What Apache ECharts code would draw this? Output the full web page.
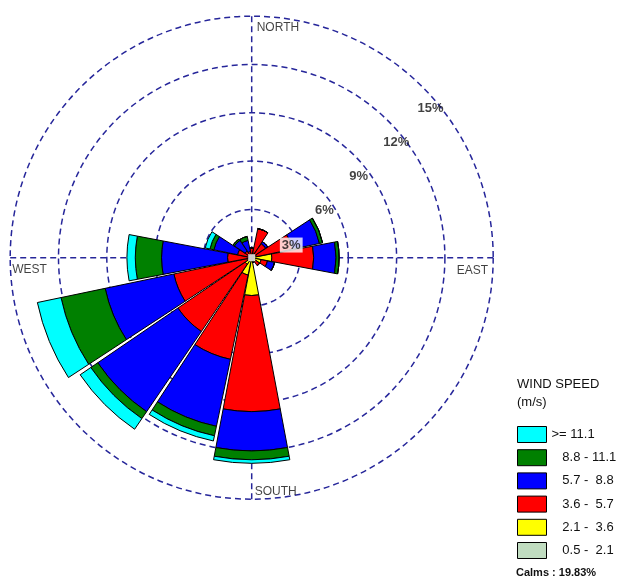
<!DOCTYPE html>
<html>
<head>
<meta charset="utf-8">
<script src="https://cdn.jsdelivr.net/npm/echarts@6/dist/echarts.min.js"></script>
<style>
  html, body { margin: 0; padding: 0; background: #fff; }
  #rose { width: 621px; height: 583px; }
</style>
</head>
<body>
<div id="rose"></div>
<script>
// Wind directions, clockwise from north
const directions = ['N', 'NNE', 'NE', 'ENE', 'E', 'ESE', 'SE', 'SSE',
                    'S', 'SSW', 'SW', 'WSW', 'W', 'WNW', 'NW', 'NNW'];

// Frequency (%) of each speed class per direction
const speed_0_5_2_1  = [0.1, 0.1, 0.1, 0.1, 0.1, 0.1, 0.1, 0.1, 0.1, 0.1, 0.1, 0.1, 0.1, 0.1, 0.1, 0.1];
const speed_2_1_3_6  = [0.1, 0.2, 0.1, 0.2, 1.15, 0.5, 0.2, 0.2, 2.25, 1.0, 0.4, 0.2, 0.1, 0.1, 0.1, 0.05];
const speed_3_6_5_7  = [0.4, 1.55, 0.85, 2.3, 2.6, 0.4, 0.3, 0, 7.21, 5.35, 5.05, 4.64, 1.3, 0.7, 0.3, 0.25];
const speed_5_7_8_8  = [0, 0, 0.15, 1.7, 1.39, 0.45, 0, 0, 2.44, 4.25, 6.03, 4.36, 4.1, 1.5, 0.8, 0.7];
const speed_8_8_11_1 = [0, 0, 0, 0.2, 0.19, 0, 0, 0, 0.55, 0.6, 0.52, 2.8, 1.63, 0.25, 0.1, 0.25];
const speed_ge_11_1  = [0, 0, 0, 0, 0, 0, 0, 0, 0.22, 0.33, 0.8, 1.5, 0.52, 0.3, 0, 0];

const speedClasses = ['   0.5 -  2.1', '   2.1 -  3.6', '   3.6 -  5.7', '   5.7 -  8.8', '   8.8 - 11.1', '>= 11.1'];
const speedColors  = ['#c0dcc0', '#ffff00', '#ff0000', '#0000ff', '#008000', '#00ffff'];
const speedData    = [speed_0_5_2_1, speed_2_1_3_6, speed_3_6_5_7, speed_5_7_8_8, speed_8_8_11_1, speed_ge_11_1];

// Ring levels (%) and compass labels
const ringLevels = [3, 6, 9, 12, 15];
const ringLabels = ['3%', '6%', '9%', '12%', '15%'];
const compassNames  = ['NORTH', 'EAST', 'SOUTH', 'WEST'];
const compassAngles = [0, 90, 180, 270];
const calmsText = 'Calms : 19.83%';

const FONT = 'Liberation Sans, Arial, sans-serif';
const GRID_COLOR = '#26269a';
const dashed = { color: GRID_COLOR, width: 1.5, type: [6, 4] };

const center = [251.7, 257.7];
const outerRadius = 241.5;

// where each compass word sits relative to its axis end
const compassPlacement = {
  NORTH: { align: 'left',  offset: [5, 11] },
  EAST:  { align: 'right', offset: [-5, 13] },
  SOUTH: { align: 'left',  offset: [3, -8] },
  WEST:  { align: 'left',  offset: [2, 12] }
};

const barSeries = speedClasses.map((name, i) => ({
  name: name,
  type: 'bar',
  coordinateSystem: 'polar',
  polarIndex: 0,
  stack: 'speed',
  data: speedData[i],
  barCategoryGap: '5%',
  itemStyle: { color: speedColors[i], borderColor: '#000', borderWidth: 1 },
  emphasis: { disabled: true },
  z: 3
}));

const ringLabelSeries = {
  type: 'scatter',
  coordinateSystem: 'polar',
  polarIndex: 1,
  symbolSize: 1,
  itemStyle: { color: 'rgba(0,0,0,0)' },
  silent: true,
  z: 6,
  data: ringLevels.map((r, i) => ({
    value: [r, 45],
    label: {
      show: true,
      formatter: ringLabels[i],
      position: 'inside',
      align: 'left',
      verticalAlign: 'top',
      offset: r === 3 ? [-6, 14] : [-5, 15],
      fontFamily: FONT,
      fontSize: 13,
      fontWeight: 'bold',
      color: '#111',
      backgroundColor: r === 3 ? '#fff' : 'transparent',
      padding: r === 3 ? [1, 2] : 0
    }
  }))
};

const compassSeries = {
  type: 'scatter',
  coordinateSystem: 'polar',
  polarIndex: 1,
  symbolSize: 1,
  itemStyle: { color: 'rgba(0,0,0,0)' },
  silent: true,
  z: 6,
  data: compassNames.map((n, i) => ({
    value: [15, compassAngles[i]],
    label: {
      show: true,
      formatter: n,
      position: 'inside',
      align: compassPlacement[n].align,
      verticalAlign: 'middle',
      offset: compassPlacement[n].offset,
      fontFamily: FONT,
      fontSize: 12,
      color: '#111'
    }
  }))
};

// white calms square at the centre
const calmSeries = {
  type: 'scatter',
  coordinateSystem: 'polar',
  polarIndex: 1,
  symbol: 'rect',
  symbolSize: 7,
  itemStyle: { color: '#fff' },
  silent: true,
  z: 5,
  data: [[0, 0]]
};

const chart = echarts.init(document.getElementById('rose'), null, { renderer: 'canvas' });
chart.setOption({
  animation: false,
  backgroundColor: '#fff',
  title: [
    { text: 'WIND SPEED', left: 517, top: 378, padding: 0,
      textStyle: { fontFamily: FONT, fontSize: 13, fontWeight: 'normal', color: '#111' } },
    { text: '(m/s)', left: 517, top: 396, padding: 0,
      textStyle: { fontFamily: FONT, fontSize: 13, fontWeight: 'normal', color: '#111' } },
    { text: calmsText, left: 516, top: 567, padding: 0,
      textStyle: { fontFamily: FONT, fontSize: 11, fontWeight: 'bold', color: '#111' } }
  ],
  legend: {
    data: speedClasses.slice().reverse(),
    orient: 'vertical',
    left: 517,
    top: 426,
    padding: 0,
    itemWidth: 29,
    itemHeight: 16,
    itemGap: 6.2,
    icon: 'rect',
    selectedMode: false,
    itemStyle: { borderColor: '#000', borderWidth: 1 },
    textStyle: { fontFamily: FONT, fontSize: 13, color: '#111' }
  },
  polar: [
    { center: center, radius: outerRadius },
    { center: center, radius: outerRadius }
  ],
  angleAxis: [
    {
      polarIndex: 0,
      type: 'category',
      data: directions,
      startAngle: 101.25,
      clockwise: true,
      axisLine: { show: false },
      axisTick: { show: false },
      axisLabel: { show: false },
      splitLine: { show: false }
    },
    {
      polarIndex: 1,
      type: 'value',
      min: 0,
      max: 360,
      interval: 90,
      startAngle: 90,
      clockwise: true,
      axisLine: { show: false },
      axisTick: { show: false },
      axisLabel: { show: false },
      splitLine: { show: true, lineStyle: dashed }
    }
  ],
  radiusAxis: [
    {
      polarIndex: 0,
      type: 'value',
      min: 0,
      max: 15,
      interval: 3,
      axisLine: { show: false },
      axisTick: { show: false },
      axisLabel: { show: false },
      splitLine: { show: true, lineStyle: dashed }
    },
    {
      polarIndex: 1,
      type: 'value',
      min: 0,
      max: 15,
      interval: 3,
      axisLine: { show: false },
      axisTick: { show: false },
      axisLabel: { show: false },
      splitLine: { show: false }
    }
  ],
  series: barSeries.concat([calmSeries, ringLabelSeries, compassSeries])
});
</script>
</body>
</html>
